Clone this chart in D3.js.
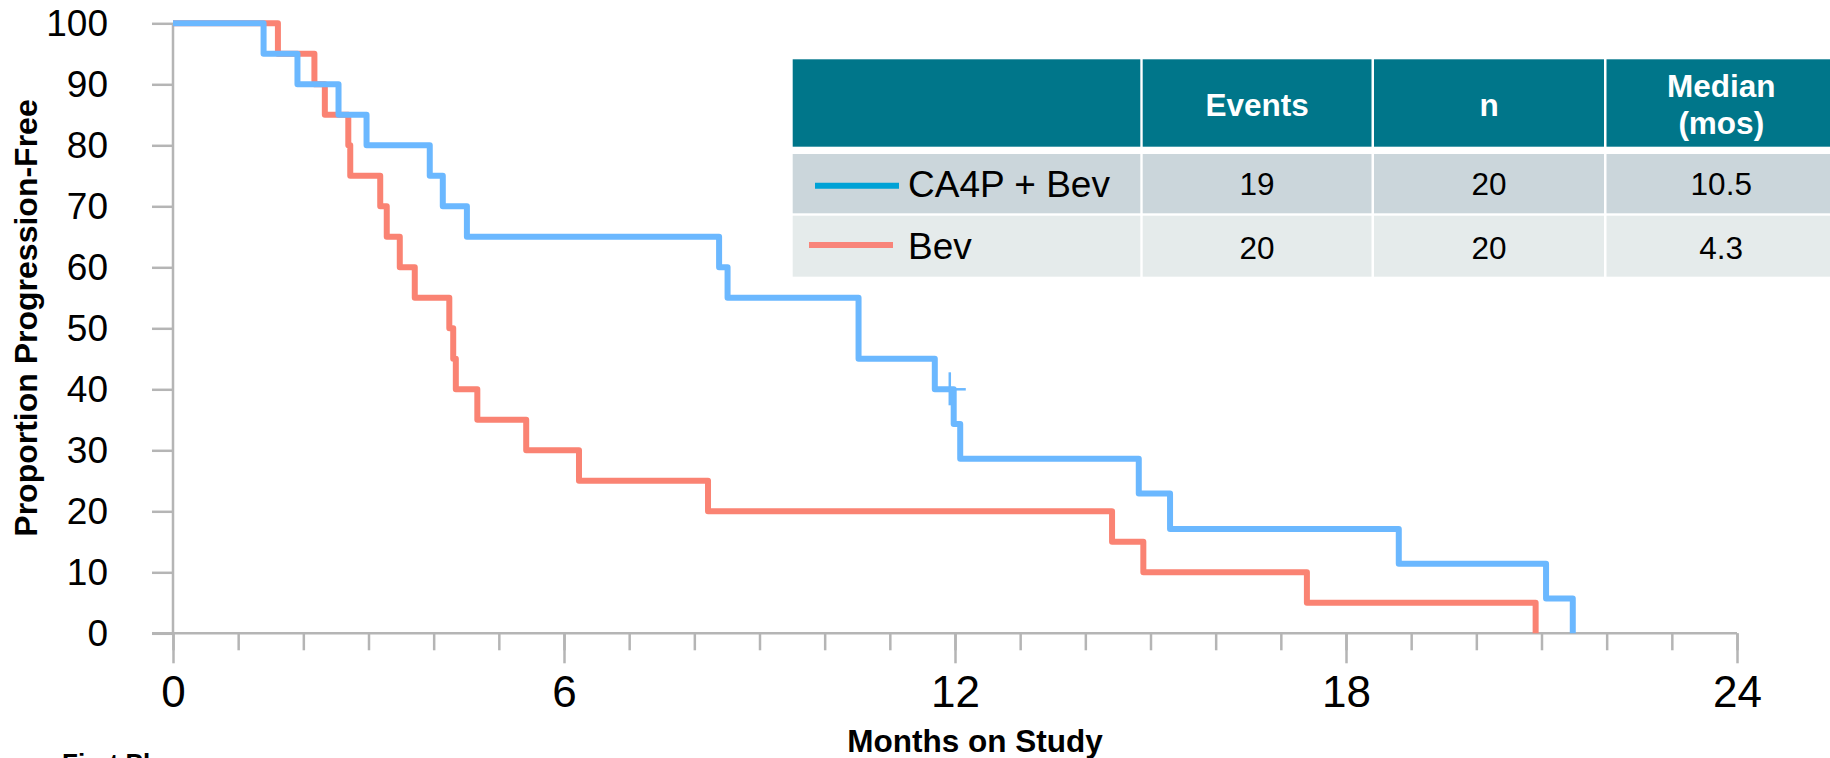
<!DOCTYPE html>
<html>
<head>
<meta charset="utf-8">
<script src="https://cdn.jsdelivr.net/npm/d3@7"></script>
<style>
  body { margin: 0; background: #fff; }
  svg { display: block; font-family: "Liberation Sans", Arial, sans-serif; }
</style>
</head>
<body>
<div id="km"></div>
<script>
// step data (months, % progression-free after the step)
const comboTimes = [0, 1.39, 1.91, 2.54, 2.97, 3.94, 4.14, 4.51, 8.38, 8.51, 10.52, 11.69, 11.98, 12.08, 14.82, 15.30, 18.81, 21.07, 21.48];
const comboSurv  = [100, 95, 90, 85, 80, 75, 70, 65, 60, 55, 45, 40, 34.3, 28.6, 22.9, 17.1, 11.4, 5.7, 0];
const comboCensor = [[11.92, 40]];

const bevTimes = [0, 1.61, 2.17, 2.33, 2.69, 2.72, 3.18, 3.28, 3.48, 3.71, 4.24, 4.30, 4.34, 4.67, 5.42, 6.23, 8.21, 14.41, 14.89, 17.40, 20.91];
const bevSurv  = [100, 95, 90, 85, 80, 75, 70, 65, 60, 55, 50, 45, 40, 35, 30, 25, 20, 15, 10, 5, 0];

const xMajor = [0, 6, 12, 18, 24];
const yTicks = [0, 10, 20, 30, 40, 50, 60, 70, 80, 90, 100];

// table
const tableHeaders = ["", "Events", "n", "Median|(mos)"];
const seriesNames = ["CA4P + Bev", "Bev"];
const seriesEvents = [19, 20];
const seriesN = [20, 20];
const seriesMedian = ["10.5", "4.3"];

const lineColors = ["#6bb8ff", "#fa8373"];
const legendColors = ["#00a2d6", "#f8847a"];

let svg = d3.select('#km').append('svg')
    .attr("width", 1830)
    .attr("height", 758);

let x = d3.scaleLinear().domain([0, 24]).range([173, 1737]);
let y = d3.scaleLinear().domain([0, 100]).range([633.3, 23.3]);

const axisGrey = "#b5b5b5";

// minor x ticks every month
let xMinor = svg.append('g')
    .attr("transform", "translate(0," + y(0) + ")")
    .call(d3.axisBottom(x).tickValues(d3.range(0, 25)).tickSize(17).tickFormat(""));
xMinor.select(".domain").remove();
xMinor.selectAll("line").attr("stroke", axisGrey).attr("stroke-width", 2.5);

// major x ticks + labels
let xaxis = svg.append('g')
    .attr("transform", "translate(0," + y(0) + ")")
    .call(d3.axisBottom(x).tickValues(xMajor).tickSize(30).tickPadding(12).tickFormat(d3.format("d")));
xaxis.select(".domain").remove();
xaxis.selectAll("line").attr("stroke", axisGrey).attr("stroke-width", 2.5);
xaxis.selectAll("text")
    .attr("font-size", 44)
    .attr("font-family", "Liberation Sans, Arial, sans-serif")
    .attr("fill", "#000");

// y axis
let yaxis = svg.append('g')
    .attr("transform", "translate(" + x(0) + ",0)")
    .call(d3.axisLeft(y).tickValues(yTicks).tickSize(21).tickPadding(44));
yaxis.select(".domain").remove();
yaxis.selectAll("line").attr("stroke", axisGrey).attr("stroke-width", 2.5);
yaxis.selectAll("text")
    .attr("font-size", 37)
    .attr("font-family", "Liberation Sans, Arial, sans-serif")
    .attr("fill", "#000");

// axis lines
svg.append("line")
    .attr("x1", x(0)).attr("x2", x(0))
    .attr("y1", y(100)).attr("y2", y(0))
    .attr("stroke", axisGrey).attr("stroke-width", 2.5);
svg.append("line")
    .attr("x1", x(0) - 21).attr("x2", x(24))
    .attr("y1", y(0)).attr("y2", y(0))
    .attr("stroke", axisGrey).attr("stroke-width", 2.5);

// axis titles
svg.append("text")
    .attr("transform", "translate(37," + 318 + ") rotate(-90)")
    .attr("text-anchor", "middle")
    .attr("font-size", 32)
    .attr("font-weight", "bold")
    .text("Proportion Progression-Free");

svg.append("text")
    .attr("x", 975)
    .attr("y", 752)
    .attr("text-anchor", "middle")
    .attr("font-size", 31.5)
    .attr("font-weight", "bold")
    .text("Months on Study");

// footnote cut off by the bottom edge
svg.append("text")
    .attr("x", 62)
    .attr("y", 772)
    .attr("font-size", 26)
    .attr("font-weight", "bold")
    .text("First Phase");

// KM curves
let line = d3.line()
    .x(function(d){ return x(d[0]); })
    .y(function(d){ return y(d[1]); })
    .curve(d3.curveStepAfter);

let curves = [d3.zip(bevTimes, bevSurv), d3.zip(comboTimes, comboSurv)];
let curveColors = [lineColors[1], lineColors[0]];

svg.append('g')
    .selectAll('path')
    .data(curves)
    .enter().append('path')
        .attr("d", line)
        .attr("fill", "none")
        .attr("stroke", function(d, i){ return curveColors[i]; })
        .attr("stroke-width", 6)
        .attr("stroke-linejoin", "round");

// censor marks
let cens = svg.append('g').selectAll('g')
    .data(comboCensor)
    .enter().append('g')
        .attr("transform", function(d){ return "translate(" + x(d[0]) + "," + y(d[1]) + ")"; });
cens.append("line").attr("x1", -15).attr("x2", 16).attr("y1", 0).attr("y2", 0)
    .attr("stroke", lineColors[0]).attr("stroke-width", 2.5);
cens.append("line").attr("x1", 0).attr("x2", 0).attr("y1", -17).attr("y2", 16)
    .attr("stroke", lineColors[0]).attr("stroke-width", 2.5);

// table
let colEdges = [[792.7, 1140.3], [1142.7, 1371.5], [1374, 1604], [1606.5, 1836]];
let rowEdges = [[59.3, 146.7], [154, 213.3], [215.7, 276.7]];
let rowFill = ["#00768a", "#cbd6db", "#e5ebeb"];

let table = svg.append('g');
rowEdges.forEach(function(r, ri){
    colEdges.forEach(function(c){
        table.append("rect")
            .attr("x", c[0]).attr("y", r[0])
            .attr("width", c[1] - c[0]).attr("height", r[1] - r[0])
            .attr("fill", rowFill[ri]);
    });
});

function colCenter(i){ return (colEdges[i][0] + colEdges[i][1]) / 2; }

tableHeaders.forEach(function(h, i){
    if (!h) return;
    let parts = h.split("|");
    let t = table.append("text")
        .attr("text-anchor", "middle")
        .attr("font-size", 31.5)
        .attr("font-weight", "bold")
        .attr("fill", "#fff");
    if (parts.length == 1) {
        t.attr("x", colCenter(i)).attr("y", 116).text(parts[0]);
    } else {
        t.append("tspan").attr("x", colCenter(i)).attr("y", 97).text(parts[0]);
        t.append("tspan").attr("x", colCenter(i)).attr("y", 134).text(parts[1]);
    }
});

let labelBase = [196.7, 259];
let numBase = [195, 259];
let legendY = [185.7, 245];
let legendX = [[815, 899], [809, 893]];

seriesNames.forEach(function(name, i){
    table.append("line")
        .attr("x1", legendX[i][0]).attr("x2", legendX[i][1])
        .attr("y1", legendY[i]).attr("y2", legendY[i])
        .attr("stroke", legendColors[i]).attr("stroke-width", 6);
    table.append("text")
        .attr("x", 908).attr("y", labelBase[i])
        .attr("font-size", 37)
        .attr("fill", "#000")
        .text(name);
    [seriesEvents[i], seriesN[i], seriesMedian[i]].forEach(function(v, j){
        table.append("text")
            .attr("x", colCenter(j + 1)).attr("y", numBase[i])
            .attr("text-anchor", "middle")
            .attr("font-size", 31.5)
            .attr("fill", "#000")
            .text(v);
    });
});
</script>
</body>
</html>
